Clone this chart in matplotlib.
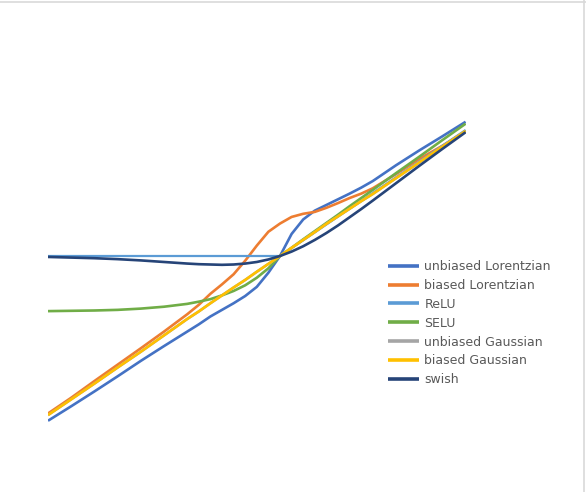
import matplotlib
matplotlib.use("Agg")
import matplotlib.pyplot as plt
from matplotlib.lines import Line2D

# x grid shared by all series
x = [-5, -4.5, -4, -3.5, -3, -2.5, -2, -1.75, -1.5, -1.25, -1, -0.75, -0.5,
     -0.25, 0, 0.25, 0.5, 0.75, 1, 1.25, 1.5, 1.75, 2, 2.5, 3, 3.5, 4]

unbiased_lorentzian = [-5.23, -4.77, -4.30, -3.82, -3.33, -2.86, -2.40, -2.17, -1.92,
                       -1.71, -1.50, -1.27, -0.98, -0.53, 0.0, 0.70, 1.16, 1.44, 1.62,
                       1.80, 1.98, 2.17, 2.38, 2.88, 3.35, 3.80, 4.26]
biased_lorentzian = [-5.00, -4.50, -3.97, -3.45, -2.93, -2.40, -1.85, -1.55, -1.20,
                     -0.90, -0.58, -0.15, 0.33, 0.77, 1.03, 1.24, 1.34, 1.40, 1.53,
                     1.68, 1.84, 1.98, 2.15, 2.60, 3.08, 3.50, 3.96]
relu = [0, 0, 0, 0, 0, 0, 0, 0, 0, 0, 0, 0, 0, 0, 0, 0.25, 0.5, 0.75, 1, 1.25, 1.5,
        1.75, 2, 2.5, 3, 3.5, 4]
selu = [-1.75, -1.74, -1.73, -1.71, -1.67, -1.61, -1.52, -1.45, -1.37, -1.25, -1.11,
        -0.93, -0.69, -0.39, 0.0, 0.26, 0.53, 0.79, 1.05, 1.31, 1.58, 1.84, 2.10,
        2.63, 3.15, 3.68, 4.20]
unbiased_gaussian = [-5.05, -4.55, -4.05, -3.54, -3.04, -2.52, -2.00, -1.76, -1.50,
                     -1.25, -1.00, -0.76, -0.50, -0.25, 0.0, 0.26, 0.51, 0.76, 1.02,
                     1.26, 1.50, 1.74, 1.97, 2.47, 2.97, 3.47, 3.97]
biased_gaussian = [-5.05, -4.55, -4.05, -3.54, -3.04, -2.52, -2.00, -1.76, -1.50,
                   -1.25, -1.00, -0.76, -0.50, -0.25, 0.0, 0.26, 0.51, 0.76, 1.02,
                   1.26, 1.50, 1.74, 1.97, 2.47, 2.97, 3.47, 3.97]
swish = [-0.03, -0.05, -0.07, -0.10, -0.14, -0.19, -0.24, -0.26, -0.27, -0.28, -0.27,
         -0.24, -0.19, -0.11, 0.0, 0.14, 0.31, 0.51, 0.73, 0.97, 1.23, 1.49, 1.76,
         2.31, 2.86, 3.40, 3.93]

labels = ["unbiased Lorentzian", "biased Lorentzian", "ReLU", "SELU",
          "unbiased Gaussian", "biased Gaussian", "swish"]
series = [unbiased_lorentzian, biased_lorentzian, relu, selu,
          unbiased_gaussian, biased_gaussian, swish]
colors = ["#4472C4", "#ED7D31", "#5B9BD5", "#70AD47", "#A5A5A5", "#FFC000", "#264478"]

W, H = 586, 492
fig = plt.figure(figsize=(W / 100, H / 100), dpi=100)
# plot area in pixels: x 48..465.6, y 40..440 ; y=0 at pixel 256, 31.5 px per unit
ax = fig.add_axes([48 / W, 1 - 440 / H, 417.6 / W, 400 / H])
ax.set_xlim(-5, 4)
ax.set_ylim(-184 / 31.5, 216 / 31.5)
ax.axis("off")

for vals, lab, c in zip(series, labels, colors):
    lw = 1.6 if lab == "ReLU" else 1.9
    ax.plot(x, vals, color=c, lw=lw, label=lab, solid_capstyle="butt")

leg = ax.legend(loc="upper left", bbox_to_anchor=(388 / W, 1 - 260 / H),
                bbox_transform=fig.transFigure, frameon=False,
                prop={"family": "DejaVu Sans", "size": 9.0}, handlelength=2.5,
                handletextpad=0.42, labelspacing=0.47, borderpad=0, borderaxespad=0)
for t in leg.get_texts():
    t.set_color("#595959")
for h in leg.legend_handles:
    h.set_linewidth(2.6)

# chart border (only top and right visible in the reference)
fig.add_artist(Line2D([0, 1], [1 - 1.5 / H, 1 - 1.5 / H], color="#D9D9D9", lw=1.2))
fig.add_artist(Line2D([1 - 2.5 / W, 1 - 2.5 / W], [0, 1], color="#D9D9D9", lw=1.2))

fig.savefig("out.png", dpi=100)
